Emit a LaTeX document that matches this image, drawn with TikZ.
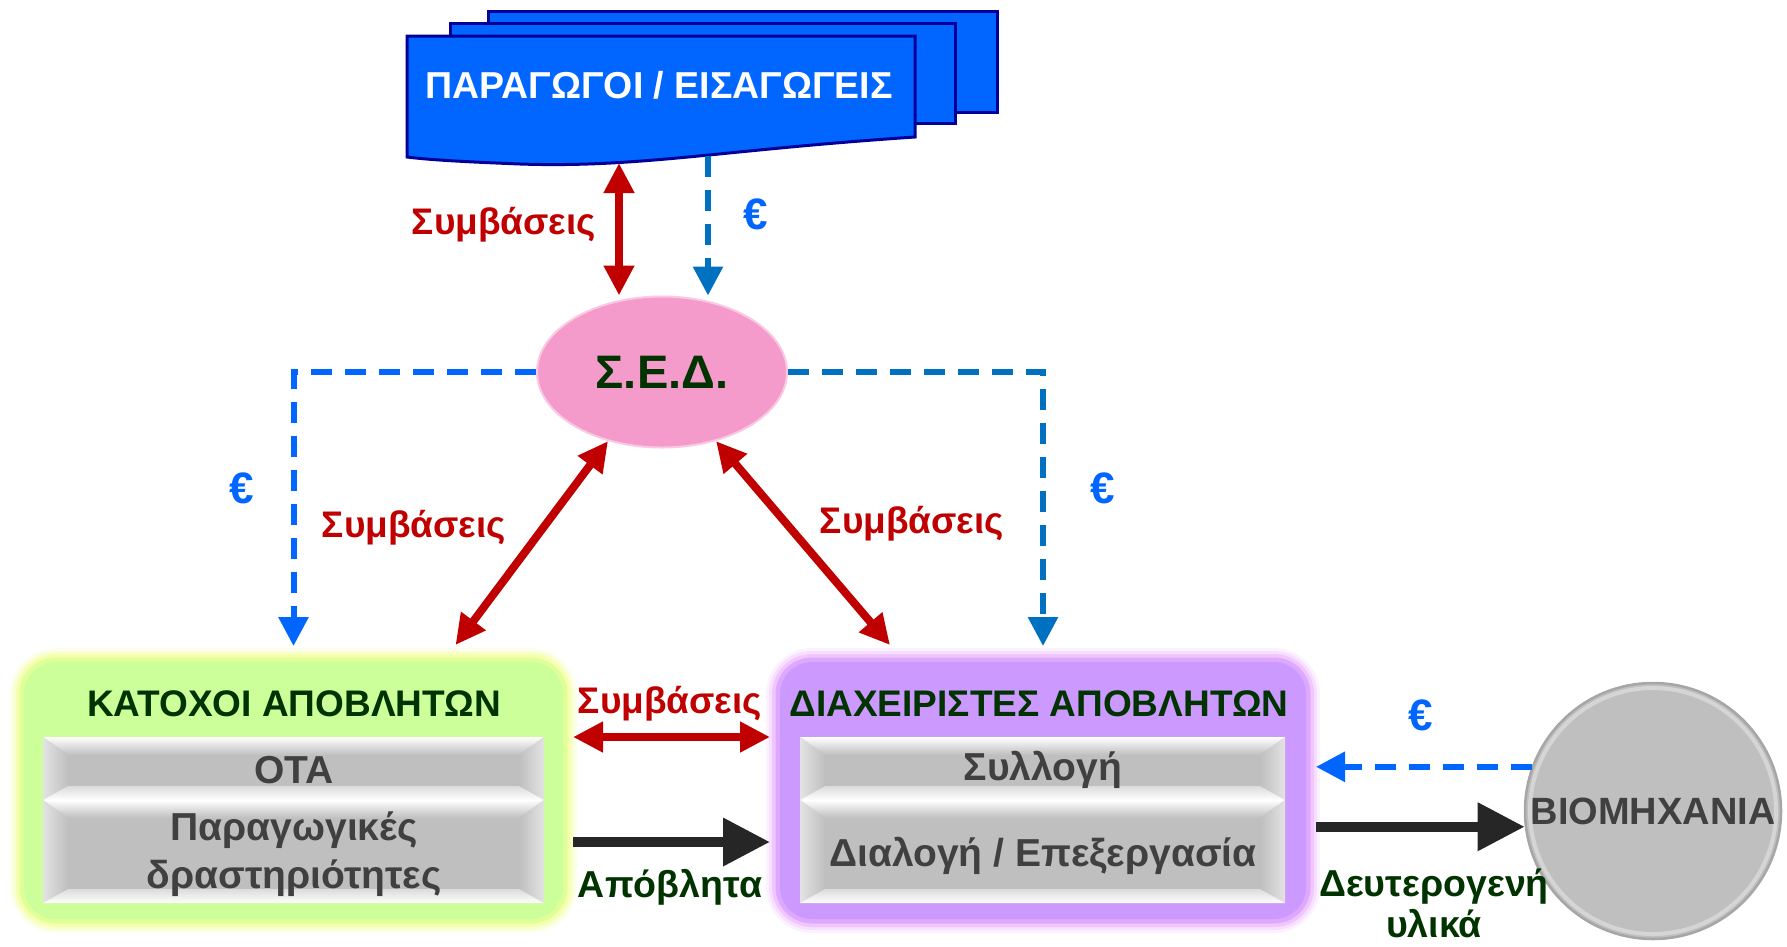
\documentclass[tikz,border=0pt]{standalone}
\usepackage{fontspec}
\setmainfont{Liberation Sans}
\usetikzlibrary{arrows.meta,shapes.geometric}
\definecolor{sred}{HTML}{C00000}
\definecolor{brblue}{HTML}{0066FF}
\definecolor{dkblue}{HTML}{0070C0}
\definecolor{dkgreen}{HTML}{003300}
\definecolor{docblue}{HTML}{0066FF}
\definecolor{docedge}{HTML}{000099}
\definecolor{sedpink}{HTML}{F59BCB}
\definecolor{pnlgray}{HTML}{BFBFBF}
\definecolor{txtgray}{HTML}{404040}
\definecolor{blk}{HTML}{262626}
\definecolor{holdgreen}{HTML}{CCFF99}
\definecolor{holdglow}{HTML}{F2FF99}
\definecolor{mgrviolet}{HTML}{CC99FF}
\definecolor{mgrglow}{HTML}{EEB8FF}
\pgfdeclarelayer{bg}
\pgfsetlayers{bg,main}

% bevelled grey panel: x1 y1 x2 y2
\newcommand\bevel[4]{%
  \fill[pnlgray] (#1,#2) rectangle (#3,#4);
  \shade[top color=white, bottom color=pnlgray] (#1,#2) -- (#3,#2) -- (#3-25,#2+18) -- (#1+25,#2+18) -- cycle;
  \shade[left color=gray!22, right color=pnlgray] (#1,#2) -- (#1+25,#2+18) -- (#1+25,#4-14) -- (#1,#4) -- cycle;
  \shade[right color=gray!22, left color=pnlgray] (#3,#2) -- (#3-25,#2+18) -- (#3-25,#4-14) -- (#3,#4) -- cycle;
  \shade[bottom color=white, top color=gray!28] (#1,#4) -- (#3,#4) -- (#3-25,#4-14) -- (#1+25,#4-14) -- cycle;
}

\begin{document}
\begin{tikzpicture}[x=1pt,y=-1pt]
  \tikzset{
    doctext/.style = {font=\bfseries\fontsize{37.5}{40}\selectfont, text=white, inner sep=0pt},
    sedstyle/.style = {ellipse, minimum width=250pt, minimum height=151pt, inner sep=0pt,
      fill=sedpink, draw=sedpink!55!white, line width=2pt,
      font=\bfseries\fontsize{47}{50}\selectfont, text=dkgreen},
    boxstyle/.style = {rounded corners=32pt, minimum height=257pt, inner sep=0pt, outer sep=0pt},
    title/.style = {font=\bfseries\fontsize{37}{40}\selectfont, text=dkgreen, inner sep=0pt},
    pnltext/.style = {font=\bfseries\fontsize{39}{48}\selectfont, text=txtgray, align=center, inner sep=0pt},
    indstyle/.style = {circle, minimum size=256pt, inner sep=0pt, fill=pnlgray, draw=gray!70, line width=2.5pt,
      font=\bfseries\fontsize{38}{40}\selectfont, text=txtgray},
    redlbl/.style = {font=\bfseries\fontsize{37}{40}\selectfont, text=sred, inner sep=0pt},
    grnlbl/.style = {font=\bfseries\fontsize{37.5}{41}\selectfont, text=dkgreen, inner sep=0pt, align=center},
    euro/.style = {font=\bfseries\fontsize{44}{48}\selectfont, text=brblue, inner sep=0pt},
    redarr/.style = {draw=sred, line width=8pt, {Triangle[length=30pt,width=29pt]}-{Triangle[length=30pt,width=29pt]}},
    dasharr/.style = {line width=6pt, dash pattern=on 21pt off 13pt, -{Triangle[length=29pt,width=29pt]}},
    blkarr/.style = {draw=blk, line width=10pt, -{Triangle[length=47pt,width=46pt]}}
  }
  \useasboundingbox (0,0) rectangle (1787,946);

  % stacked documents
  \filldraw[fill=docblue, draw=docedge, line width=3pt] (488,11) rectangle (997,112);
  \filldraw[fill=docblue, draw=docedge, line width=3pt] (450,23) rectangle (955,123);
  \filldraw[fill=docblue, draw=docedge, line width=3pt] (407,36) -- (915,36) -- (915,137)
    .. controls (720,150) and (640,168) .. (520,164) .. controls (470,162) and (430,160) .. (407,157) -- cycle;
  \node[doctext] (prod) at (659,85) {ΠΑΡΑΓΩΓΟΙ / ΕΙΣΑΓΩΓΕΙΣ};
  \coordinate (pa) at (619,163);
  \coordinate (pb) at (708,156);

  \node[sedstyle] (sed) at (662,372) {Σ.Ε.Δ.};

  \node[boxstyle, fill=holdgreen, minimum width=539pt] (hold) at (293.5,790.5) {};
  \node[boxstyle, fill=mgrviolet, minimum width=526pt] (mgr) at (1043,790.5) {};
  \begin{pgfonlayer}{bg}
    \foreach \w/\c in {28/holdglow!20, 22/holdglow!45, 16/holdglow!80, 9/holdglow!50!holdgreen}
      \draw[\c, line width=\w pt, rounded corners=32pt] (hold.south west) rectangle (hold.north east);
    \foreach \w/\c in {28/mgrglow!20, 22/mgrglow!45, 16/mgrglow!80, 9/mgrglow!50!mgrviolet}
      \draw[\c, line width=\w pt, rounded corners=32pt] (mgr.south west) rectangle (mgr.north east);
  \end{pgfonlayer}

  \node[title] (holdt) at (294,704) {ΚΑΤΟΧΟΙ ΑΠΟΒΛΗΤΩΝ};
  \node[title] (mgrt) at (1039,704) {ΔΙΑΧΕΙΡΙΣΤΕΣ ΑΠΟΒΛΗΤΩΝ};

  \bevel{43}{737}{544}{800}
  \bevel{43}{800}{544}{903}
  \bevel{800}{737}{1285}{800}
  \bevel{800}{800}{1285}{903}
  \node[pnltext] (ota) at (294,770) {ΟΤΑ};
  \node[pnltext] (prd) at (294,854) {Παραγωγικές\\δραστηριότητες};
  \node[pnltext] (coll) at (1043,770) {Συλλογή};
  \node[pnltext] (sort) at (1043,856) {Διαλογή / Επεξεργασία};

  \node[indstyle] (ind) at (1653,811) {ΒΙΟΜΗΧΑΝΙΑ};
  \draw[white, opacity=0.35, line width=4pt] (ind.center) circle (123);

  % connectors
  \draw[redarr] (pa) -- (pa |- sed.north);
  \draw[dasharr, dkblue] (pb) -- (pb |- sed.north);
  \draw[dasharr, brblue, shorten >=16pt] (sed.west) -| (hold.north);
  \draw[dasharr, dkblue, shorten >=16pt] (sed.east) -| (mgr.north);
  \draw[redarr] (sed.-128) -- ([xshift=162pt,yshift=17pt]hold.north);
  \draw[redarr] (sed.-52) -- ([xshift=-153pt,yshift=17pt]mgr.north);
  \draw[redarr, shorten <=10pt, shorten >=10pt] ([yshift=53.5pt]hold.east) -- ([yshift=53.5pt]hold.east -| mgr.west);
  \draw[blkarr, shorten <=10pt, shorten >=10pt] ([yshift=-51.5pt]hold.east) -- ([yshift=-51.5pt]hold.east -| mgr.west);
  \draw[dasharr, brblue, shorten >=10pt] (ind.160) -- (ind.160 -| mgr.east);
  \draw[blkarr, shorten <=10pt] (ind.187 -| mgr.east) -- (ind.187);

  % labels
  \node[redlbl] (s1) at (504,225) {Συμβάσεις};
  \node[euro] (e1) at (756,214) {€};
  \node[euro] (e2) at (242,488) {€};
  \node[euro] (e3) at (1103,488) {€};
  \node[redlbl] (s2) at (414,528) {Συμβάσεις};
  \node[redlbl] (s3) at (912,524) {Συμβάσεις};
  \node[redlbl] (s4) at (670,704) {Συμβάσεις};
  \node[grnlbl] (w1) at (670,887) {Απόβλητα};
  \node[euro] (e4) at (1421,715) {€};
  \node[grnlbl] (w2) at (1434,903) {Δευτερογενή\\υλικά};
\end{tikzpicture}
\end{document}
